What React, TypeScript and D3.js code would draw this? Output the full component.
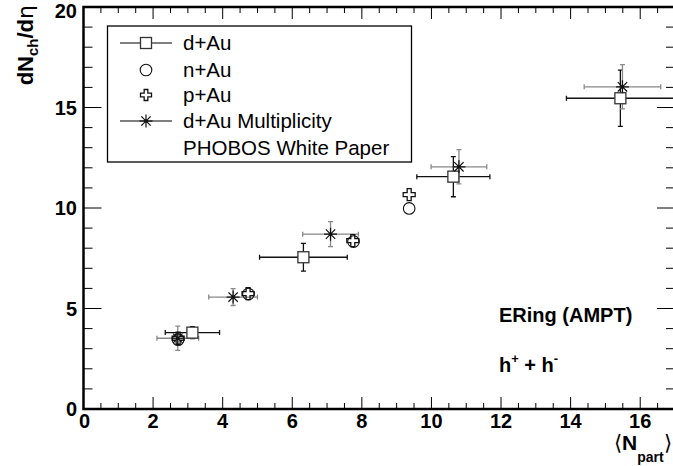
import React from "react";
import * as d3 from "d3";

const dAuX = [3.13, 6.32, 10.63, 15.43];
const dAuY = [3.8, 7.55, 11.56, 15.46];
const dAuEX = [0.78, 1.26, 1.05, 1.55];
const dAuEY = [0.3, 0.69, 1.0, 1.4];

const multX = [2.71, 4.3, 7.1, 10.79, 15.49];
const multY = [3.52, 5.57, 8.7, 12.05, 16.03];
const multEX = [0.6, 0.7, 0.8, 0.8, 1.1];
const multEY = [0.6, 0.42, 0.62, 0.85, 1.1];

const nAuX = [2.72, 4.74, 7.76, 9.36];
const nAuY = [3.45, 5.72, 8.33, 9.98];

const pAuX = [2.72, 4.73, 7.74, 9.36];
const pAuY = [3.52, 5.74, 8.38, 10.67];

const xMajor = [0, 2, 4, 6, 8, 10, 12, 14, 16];
const yMajor = [0, 5, 10, 15, 20];
const legendLabels = ["d+Au", "n+Au", "p+Au", "d+Au Multiplicity", "PHOBOS White Paper"];

const W = 673, H = 466;
const L = 83.5, R = 675, T = 7, B = 409;
const x = d3.scaleLinear().domain([0, 17]).range([L, R]);
const y = d3.scaleLinear().domain([0, 20]).range([B, T]);

const FONT = "'Liberation Sans', Arial, Helvetica, sans-serif";

function Square({ cx, cy, s = 11, stroke = "#333" }: any) {
  return <rect x={cx - s / 2} y={cy - s / 2} width={s} height={s} fill="white" stroke={stroke} strokeWidth={1.3} />;
}
function Circle({ cx, cy, r = 5.8, stroke = "#111" }: any) {
  return <circle cx={cx} cy={cy} r={r} fill="none" stroke={stroke} strokeWidth={1.1} />;
}
function OpenCross({ cx, cy, s = 12, stroke = "#111" }: any) {
  const a = s / 2, b = s / 6;
  const pts = [
    [-b, -a], [b, -a], [b, -b], [a, -b], [a, b], [b, b], [b, a], [-b, a], [-b, b], [-a, b], [-a, -b], [-b, -b],
  ].map(([px, py]) => `${cx + px},${cy + py}`).join(" ");
  return <polygon points={pts} fill="none" stroke={stroke} strokeWidth={1.3} />;
}
function Star({ cx, cy, s = 13, stroke = "#111" }: any) {
  const a = s / 2, d = a * 0.72;
  return (
    <g stroke={stroke} strokeWidth={1.2}>
      <line x1={cx - a} y1={cy} x2={cx + a} y2={cy} />
      <line x1={cx} y1={cy - a} x2={cx} y2={cy + a} />
      <line x1={cx - d} y1={cy - d} x2={cx + d} y2={cy + d} />
      <line x1={cx - d} y1={cy + d} x2={cx + d} y2={cy - d} />
      <circle cx={cx} cy={cy} r={1.8} fill={stroke} stroke="none" />
    </g>
  );
}

function ErrBars({ xs, ys, exs, eys, color, gap }: any) {
  const cap = 2.5;
  return (
    <g stroke={color} strokeWidth={1.3}>
      {xs.map((xv: number, i: number) => {
        const cx = x(xv), cy = y(ys[i]);
        const x1 = x(xv - exs[i]), x2 = x(xv + exs[i]);
        const y1 = y(ys[i] + eys[i]), y2 = y(ys[i] - eys[i]);
        return (
          <g key={i}>
            {x1 < cx - gap && <line x1={x1} y1={cy} x2={cx - gap} y2={cy} />}
            {x2 > cx + gap && <line x1={cx + gap} y1={cy} x2={x2} y2={cy} />}
            {y1 < cy - gap && <line x1={cx} y1={y1} x2={cx} y2={cy - gap} />}
            {y2 > cy + gap && <line x1={cx} y1={cy + gap} x2={cx} y2={y2} />}
            <line x1={x1} y1={cy - cap} x2={x1} y2={cy + cap} />
            <line x1={x2} y1={cy - cap} x2={x2} y2={cy + cap} />
            <line x1={cx - cap} y1={y1} x2={cx + cap} y2={y1} />
            <line x1={cx - cap} y1={y2} x2={cx + cap} y2={y2} />
          </g>
        );
      })}
    </g>
  );
}

export default function App() {
  const xMinor = d3.range(0, 17.01, 0.5);
  const yMinor = d3.range(0, 20.01, 1);
  const legY = [43, 70, 95, 121, 148];
  const legSymX = 146;
  return (
    <svg width={W} height={H} style={{ position: "absolute", left: 0, top: 0, background: "white" }} fontFamily={FONT}>
      <rect x={0} y={0} width={W} height={H} fill="white" />
      <defs>
        <clipPath id="plotclip">
          <rect x={L} y={T} width={R - L} height={B - T} />
        </clipPath>
      </defs>

      {/* ticks */}
      <g stroke="#000" strokeWidth={1}>
        {xMinor.map((v) => {
          const major = Math.abs(v / 2 - Math.round(v / 2)) < 1e-6;
          const len = major ? 12 : 6;
          return (
            <g key={"x" + v}>
              <line x1={x(v)} y1={B} x2={x(v)} y2={B - len} />
              <line x1={x(v)} y1={T} x2={x(v)} y2={T + len} />
            </g>
          );
        })}
        {yMinor.map((v) => {
          const major = v % 5 === 0;
          const len = major ? 18 : 9;
          return (
            <g key={"y" + v}>
              <line x1={L} y1={y(v)} x2={L + len} y2={y(v)} />
              <line x1={R} y1={y(v)} x2={R - len} y2={y(v)} />
            </g>
          );
        })}
      </g>

      {/* frame */}
      <rect x={L} y={T} width={R - L} height={B - T} fill="none" stroke="#000" strokeWidth={2.5} />

      {/* tick labels */}
      <g fontWeight="bold" fontSize={20} fill="#000">
        {xMajor.map((v) => (
          <text key={"xl" + v} x={x(v) + (v === 0 ? 1 : 0)} y={428} textAnchor="middle">{v}</text>
        ))}
        {yMajor.map((v) => (
          <text key={"yl" + v} x={77} y={Math.max(y(v) + 7, 18)} textAnchor="end">{v}</text>
        ))}
      </g>

      {/* axis titles */}
      <text transform="translate(33,5) rotate(-90)" textAnchor="end" fontWeight="bold" fontSize={22} fill="#000">
        dN<tspan fontSize={15} dy={5}>ch</tspan><tspan dy={-5}>/d</tspan><tspan fontFamily="'DejaVu Sans', sans-serif" fontWeight="normal">η</tspan>
      </text>
      <text x={614} y={450} fontWeight="bold" fontSize={21} fill="#000">
        <tspan fontWeight="normal">⟨</tspan>N<tspan fontSize={14} dy={12}>part</tspan><tspan dy={-12} fontWeight="normal">⟩</tspan>
      </text>

      {/* data */}
      <g clipPath="url(#plotclip)">
        <ErrBars xs={dAuX} ys={dAuY} exs={dAuEX} eys={dAuEY} color="#111" gap={5.5} />
        <ErrBars xs={multX} ys={multY} exs={multEX} eys={multEY} color="#888" gap={0} />
        {nAuX.map((v, i) => <Circle key={"n" + i} cx={x(v)} cy={y(nAuY[i])} />)}
        {pAuX.map((v, i) => <OpenCross key={"p" + i} cx={x(v)} cy={y(pAuY[i])} />)}
        {dAuX.map((v, i) => <Square key={"d" + i} cx={x(v)} cy={y(dAuY[i])} />)}
        {multX.map((v, i) => <Star key={"m" + i} cx={x(v)} cy={y(multY[i])} />)}
      </g>

      {/* legend */}
      <rect x={107.5} y={26} width={304} height={136} fill="white" stroke="#000" strokeWidth={1.3} />
      <g stroke="#000" strokeWidth={1}>
        <line x1={120} y1={legY[0]} x2={172} y2={legY[0]} />
        <line x1={120} y1={legY[3]} x2={172} y2={legY[3]} />
      </g>
      <Square cx={legSymX} cy={legY[0]} />
      <Circle cx={legSymX} cy={legY[1]} />
      <OpenCross cx={legSymX} cy={legY[2]} s={11} />
      <Star cx={legSymX} cy={legY[3]} />
      <g fontSize={20.5} fill="#000">
        {legendLabels.map((t, i) => (
          <text key={t} x={183} y={legY[i] + 7}>{t}</text>
        ))}
      </g>

      {/* annotations */}
      <text x={499} y={322} fontWeight="bold" fontSize={20} fill="#000">ERing (AMPT)</text>
      <text x={499} y={372} fontWeight="bold" fontSize={20} fill="#000">
        h<tspan fontSize={13} dy={-9}>+</tspan><tspan dy={9}> + h</tspan><tspan fontSize={13} dy={-9}>-</tspan>
      </text>
    </svg>
  );
}
